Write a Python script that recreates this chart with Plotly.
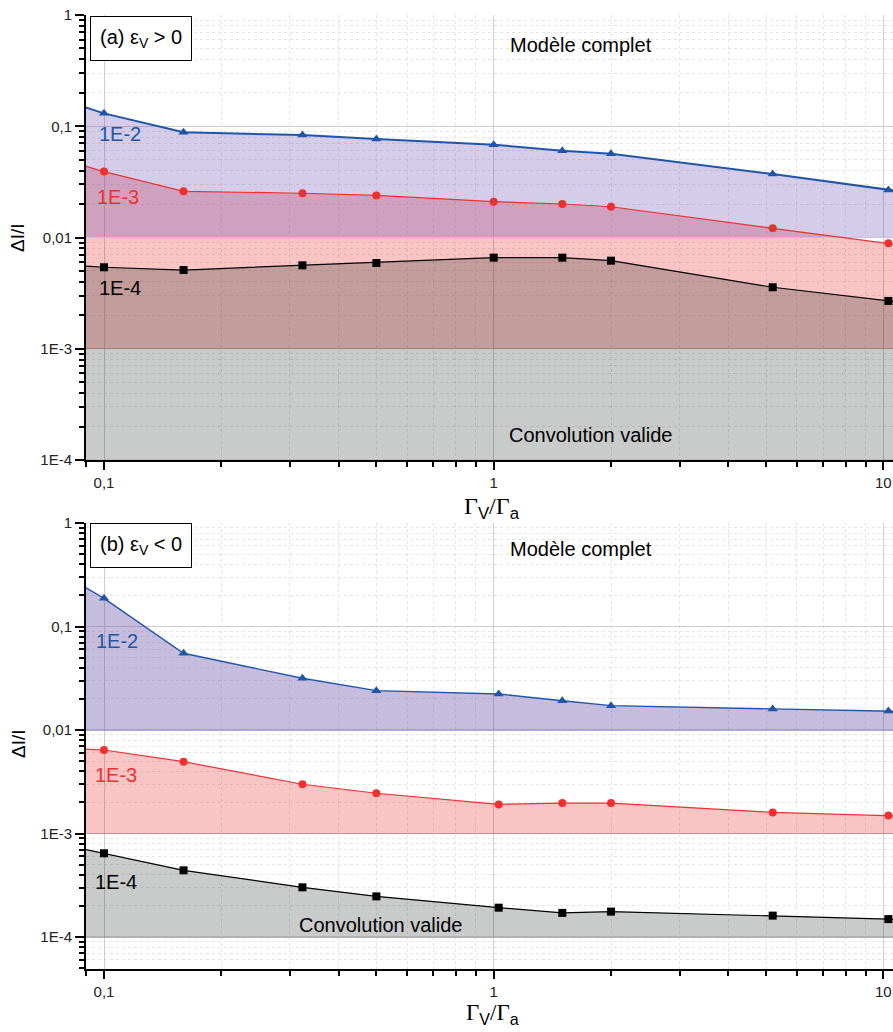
import math
import plotly.graph_objects as go

# ---------------- data ----------------
X_A = [0.1, 0.16, 0.323, 0.5, 1.0, 1.5, 2.0, 5.2, 10.3]
X_B = [0.1, 0.16, 0.323, 0.5, 1.03, 1.5, 2.0, 5.2, 10.3]
X_EDGE = [0.0895, 10.6]          # where the curves meet the frame

SERIES_NAMES = ["1E-2", "1E-3", "1E-4"]
BASE_LEVELS = [1e-2, 1e-3, 1e-4]

A_1E2 = [0.1306, 0.0882, 0.0834, 0.0768, 0.0683, 0.0603, 0.0567, 0.0372, 0.0267]
A_1E3 = [0.0391, 0.0260, 0.0250, 0.0239, 0.0210, 0.0200, 0.0189, 0.0121, 0.00887]
A_1E4 = [0.0054, 0.0051, 0.00562, 0.0059, 0.00659, 0.00659, 0.00619, 0.00357, 0.00269]
A_1E2_EDGE = [0.148, 0.0265]
A_1E3_EDGE = [0.0439, 0.0087]
A_1E4_EDGE = [0.00554, 0.00266]

B_1E2 = [0.187, 0.0551, 0.0316, 0.0240, 0.0223, 0.0192, 0.0172, 0.0160, 0.0153]
B_1E3 = [0.00641, 0.00494, 0.00299, 0.00245, 0.00191, 0.00197, 0.00197, 0.0016, 0.00149]
B_1E4 = [6.44e-4, 4.41e-4, 3.02e-4, 2.47e-4, 1.92e-4, 1.71e-4, 1.76e-4, 1.61e-4, 1.49e-4]
B_1E2_EDGE = [0.239, 0.0152]
B_1E3_EDGE = [0.00655, 0.00148]
B_1E4_EDGE = [7.03e-4, 1.48e-4]

X_TICKVALS = [0.1, 1, 10]
X_TICKTEXT = ["0,1", "1", "10"]
Y_TICKVALS = [1e-4, 1e-3, 1e-2, 1e-1, 1]
Y_TICKTEXT = ["1E-4", "1E-3", "0,01", "0,1", "1"]

# ---------------- styling ----------------
W, H = 893, 1032
FONT = "Liberation Sans, Arial, sans-serif"
SERIF = "Liberation Serif, Times New Roman, serif"

LINE_COL = ["#1f56aa", "#ee3030", "#000000"]
SYMBOLS = ["triangle-up", "circle", "square"]
MSIZE = [9, 8, 8]
FILL_A = ["rgba(105,72,175,0.28)", "rgba(227,19,19,0.25)", "rgba(20,25,25,0.23)"]
FILL_B = ["rgba(100,75,165,0.37)", "rgba(227,19,19,0.25)", "rgba(20,25,25,0.23)"]
BASE_COL_A = ["rgba(200,195,225,0.9)", "rgba(190,150,150,0.3)", "rgba(150,150,150,0.5)"]
BASE_COL_B = ["rgba(110,120,200,0.75)", "rgba(190,130,130,0.7)", "rgba(120,120,120,0.6)"]
LW_A = [2.0, 1.2, 1.2]
LW_B = [1.4, 1.2, 1.2]

x_minor = [k * 10 ** e for e in range(-2, 2) for k in range(2, 10)]
y_minor = [k * 10 ** e for e in range(-6, 0) for k in range(2, 10)]

fig = go.Figure()


def add_panel(xref, yref, xs, series, edges, fills, lws, base_cols):
    xline = [X_EDGE[0]] + xs + [X_EDGE[1]]
    # fills: red first, then lavender, then gray on top
    for i in [1, 0, 2]:
        yline = [edges[i][0]] + series[i] + [edges[i][1]]
        fig.add_trace(go.Scatter(
            x=xline, y=[BASE_LEVELS[i]] * len(xline), xaxis=xref, yaxis=yref,
            mode="lines", line=dict(color=base_cols[i], width=1),
            hoverinfo="skip", showlegend=False))
        fig.add_trace(go.Scatter(
            x=xline, y=yline, xaxis=xref, yaxis=yref, mode="lines",
            line=dict(width=0, color=fills[i]), fill="tonexty",
            fillcolor=fills[i], hoverinfo="skip", showlegend=False))
    # lines and markers on top
    for i in [2, 1, 0]:
        yline = [edges[i][0]] + series[i] + [edges[i][1]]
        fig.add_trace(go.Scatter(
            x=xline, y=yline, xaxis=xref, yaxis=yref, mode="lines",
            line=dict(color=LINE_COL[i], width=lws[i]),
            showlegend=False, hoverinfo="skip"))
        fig.add_trace(go.Scatter(
            x=xs, y=series[i], xaxis=xref, yaxis=yref, mode="markers",
            marker=dict(symbol=SYMBOLS[i], size=MSIZE[i], color=LINE_COL[i],
                        line=dict(width=0)),
            name=SERIES_NAMES[i], showlegend=False))


add_panel("x", "y", X_A, [A_1E2, A_1E3, A_1E4],
          [A_1E2_EDGE, A_1E3_EDGE, A_1E4_EDGE], FILL_A, LW_A, BASE_COL_A)
add_panel("x2", "y2", X_B, [B_1E2, B_1E3, B_1E4],
          [B_1E2_EDGE, B_1E3_EDGE, B_1E4_EDGE], FILL_B, LW_B, BASE_COL_B)

XR = [-1.0462, 1.0247]
YR_A = [-4, 0]
YR_B = [-4.309, 0]
xdom = [86 / W, 1.0]
ydom_a = [1 - 460 / H, 1 - 15 / H]
ydom_b = [1 - 969 / H, 1 - 523 / H]

tickfont = dict(family=FONT, size=15, color="#222222")
MAJOR_GRID = "rgb(205,205,205)"
MINOR_GRID = "rgb(228,228,228)"


def xaxis_main(anchor):
    return dict(
        type="log", range=XR, domain=xdom, anchor=anchor, automargin=False,
        tickmode="array", tickvals=X_TICKVALS, ticktext=X_TICKTEXT,
        ticks="outside", ticklen=8, tickwidth=2, tickcolor="black",
        showline=True, linecolor="black", linewidth=2,
        showgrid=True, gridcolor=MAJOR_GRID, gridwidth=1,
        zeroline=False, tickfont=tickfont,
        minor=dict(tickmode="array", tickvals=x_minor, ticks="outside",
                   ticklen=5, tickwidth=1.5, tickcolor="black", showgrid=True,
                   gridcolor=MINOR_GRID, griddash="dot", gridwidth=1),
    )


def yaxis_main(anchor, rng, dom):
    return dict(
        type="log", range=rng, domain=dom, anchor=anchor, automargin=False,
        tickmode="array", tickvals=Y_TICKVALS, ticktext=Y_TICKTEXT,
        ticks="outside", ticklen=9, tickwidth=2, tickcolor="black",
        showline=True, linecolor="black", linewidth=2,
        showgrid=True, gridcolor=MAJOR_GRID, gridwidth=1,
        zeroline=False, tickfont=tickfont,
        minor=dict(tickmode="array", tickvals=y_minor, ticks="outside",
                   ticklen=5, tickwidth=1.5, tickcolor="black", showgrid=True,
                   gridcolor=MINOR_GRID, griddash="dot", gridwidth=1),
    )


def xaxis_top(over, anchor):
    return dict(
        type="log", range=XR, overlaying=over, anchor=anchor, side="top",
        automargin=False,
        tickmode="array", tickvals=X_TICKVALS, showticklabels=False,
        ticks="inside", ticklen=8, tickwidth=2, tickcolor="black",
        showline=True, linecolor="black", linewidth=2, showgrid=False,
        zeroline=False,
        minor=dict(tickmode="array", tickvals=x_minor, ticks="inside",
                   ticklen=5, tickwidth=1.5, tickcolor="black", showgrid=False),
    )


def yaxis_right(over, anchor, rng):
    return dict(
        type="log", range=rng, overlaying=over, anchor=anchor, side="right",
        automargin=False,
        tickmode="array", tickvals=Y_TICKVALS, showticklabels=False,
        ticks="inside", ticklen=5, tickwidth=2, tickcolor="black",
        showline=False, showgrid=False, zeroline=False,
    )


fig.update_layout(
    width=W, height=H, autosize=False,
    margin=dict(l=0, r=0, t=0, b=0, pad=0, autoexpand=False),
    paper_bgcolor="white", plot_bgcolor="white",
    showlegend=False,
    xaxis=xaxis_main("y"),
    yaxis=yaxis_main("x", YR_A, ydom_a),
    xaxis2=xaxis_main("y2"),
    yaxis2=yaxis_main("x2", YR_B, ydom_b),
    xaxis3=xaxis_top("x", "y"),
    yaxis3=yaxis_right("y", "x", YR_A),
    xaxis4=xaxis_top("x2", "y2"),
    yaxis4=yaxis_right("y2", "x2", YR_B),
)


def px(xp, yp):
    return xp / W, 1 - yp / H


def note(text, xp, yp, size=20, color="black", family=FONT, angle=0, **kw):
    x, y = px(xp, yp)
    fig.add_annotation(text=text, x=x, y=y, xref="paper", yref="paper",
                       xanchor="center", yanchor="middle", showarrow=False,
                       textangle=angle,
                       font=dict(family=family, size=size, color=color), **kw)


SANS_SPAN = "<span style='font-family:Liberation Sans, Arial, sans-serif'>{}</span>"
X_TITLE = ("Γ<sub>" + SANS_SPAN.format("V") + "</sub>/Γ<sub>"
           + SANS_SPAN.format("a") + "</sub>")

# panel (a)
note("(a) ε<sub>V</sub> > 0", 141, 39, size=20, bgcolor="white",
     bordercolor="black", borderwidth=1, borderpad=9)
note("Modèle complet", 581, 45)
note("1E-2", 120, 134, color=LINE_COL[0])
note("1E-3", 118, 197, color=LINE_COL[1])
note("1E-4", 120, 288, color="black")
note("Convolution valide", 590, 435)
note("ΔI/I", 18, 238, size=19, angle=-90)
note(X_TITLE, 492, 508, size=24, family=SERIF)

# panel (b)
note("(b) ε<sub>V</sub> < 0", 141, 545, size=20, bgcolor="white",
     bordercolor="black", borderwidth=1, borderpad=9)
note("Modèle complet", 581, 549)
note("1E-2", 117, 641, color=LINE_COL[0])
note("1E-3", 116, 775, color=LINE_COL[1])
note("1E-4", 116, 882, color="black")
note("Convolution valide", 380, 925)
note("ΔI/I", 18, 744, size=19, angle=-90)
note(X_TITLE, 492, 1014, size=23, family=SERIF)

fig.write_html(
    "out.html",
    config={"displayModeBar": False},
    post_script="document.body.style.margin='0';document.body.style.overflow='hidden';",
)
